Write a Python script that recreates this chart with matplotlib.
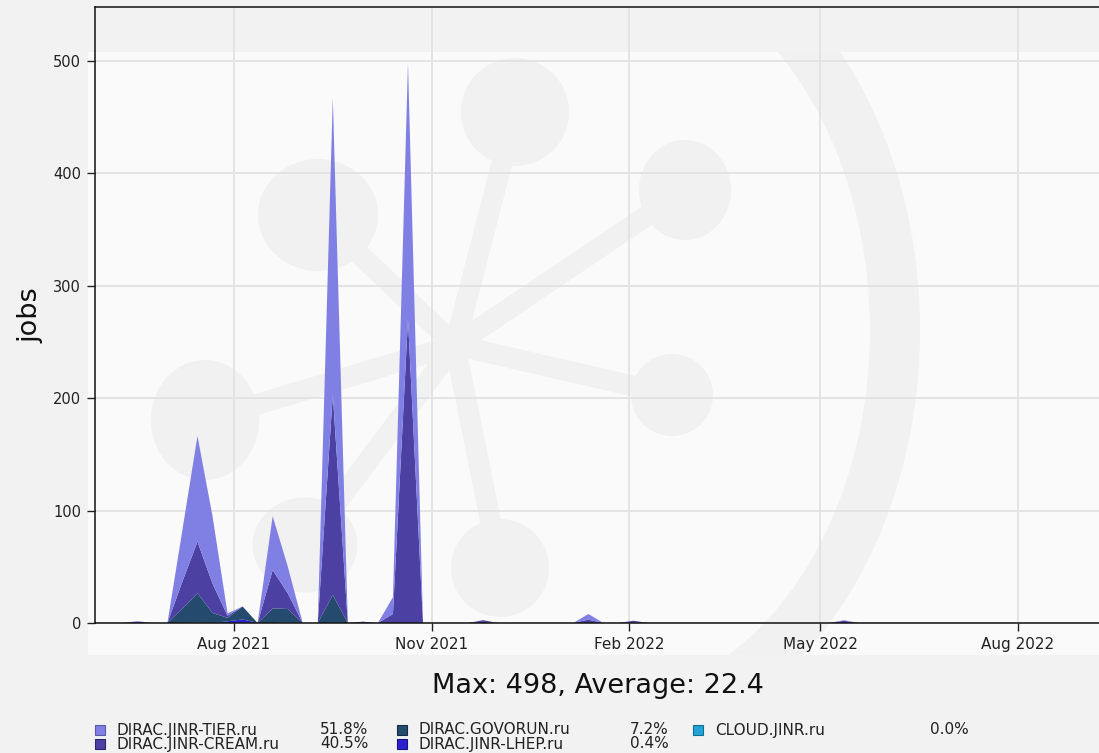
import matplotlib
matplotlib.use("Agg")
import matplotlib.pyplot as plt
import matplotlib.dates as mdates
from matplotlib.patches import Ellipse, Rectangle, Arc
import pandas as pd

W, H = 1099, 753

# ---------------- data (weekly bins) ----------------
weeks = pd.date_range("2021-06-03", periods=67, freq="7D")

tier = [0, 0, 0.5, 0, 0, 46, 94, 60, 2, 0,
        0, 48, 24, 0, 0, 264, 0, 0, 0, 15,
        228, 0, 0, 0, 0, 0, 0, 0, 0, 0,
        0, 0, 5, 0, 0, 0, 0, 0, 0, 0,
        0, 0, 0, 0, 0, 0, 0, 0, 0, 0.5,
        0, 0, 0, 0, 0, 0, 0, 0, 0, 0,
        0, 0, 0, 0, 0, 0, 0]
cream = [0, 0, 1.2, 0, 0, 24, 46, 26, 2, 0,
         0, 34, 14, 0, 0, 178, 0, 1.2, 0, 8,
         270, 0, 0, 0, 0, 1.5, 0, 0, 0, 0,
         0, 0, 3, 0, 0, 1.5, 0, 0, 0, 0,
         0, 0, 0, 0, 0, 0, 0, 0, 0, 2,
         0, 0, 0, 0, 0, 0, 0, 0, 0, 0,
         0, 0, 0, 0, 0, 0, 0]
govorun = [0, 0, 0, 0, 0, 13, 26, 9, 3, 11.5,
           0, 13, 12, 0, 0, 25, 0, 0, 0, 0,
           0, 0, 0, 0, 0, 1, 0, 0, 0, 0,
           0, 0, 0, 0, 0, 0.5, 0, 0, 0, 0,
           0, 0, 0, 0, 0, 0, 0, 0, 0, 0,
           0, 0, 0, 0, 0, 0, 0, 0, 0, 0,
           0, 0, 0, 0, 0, 0, 0]
lhep = [0, 0, 0, 0, 0, 0, 0, 0, 1.5, 3,
        0, 0, 0.5, 0, 0, 0, 0, 0, 0, 0,
        0, 0, 0, 0, 0, 0, 0, 0, 0, 0,
        0, 0, 0, 0, 0, 0, 0, 0, 0, 0,
        0, 0, 0, 0, 0, 0, 0, 0, 0, 0,
        0, 0, 0, 0, 0, 0, 0, 0, 0, 0,
        0, 0, 0, 0, 0, 0, 0]
cloud = [0, 0, 0, 0, 0, 0, 0.3, 0, 0, 0.2,
         0, 0, 0, 0, 0, 0, 0, 0, 0, 0,
         0, 0, 0, 0, 0, 0, 0, 0, 0, 0,
         0, 0, 0, 0, 0, 0, 0, 0, 0, 0,
         0, 0, 0, 0, 0, 0, 0, 0, 0, 0,
         0, 0, 0, 0, 0, 0, 0, 0, 0, 0,
         0, 0, 0, 0, 0, 0, 0]

names = ["DIRAC.JINR-TIER.ru", "DIRAC.JINR-CREAM.ru", "DIRAC.GOVORUN.ru",
         "DIRAC.JINR-LHEP.ru", "CLOUD.JINR.ru"]
pcts = ["51.8%", "40.5%", "7.2%", "0.4%", "0.0%"]
colors = ["#8080e4", "#4c40a2", "#244a6e", "#2a20cc", "#22a2d8"]
edge_colors = ["#5a5aa8", "#2e2670", "#142c44", "#18128a", "#12708f"]
title_text = "Max: 498, Average: 22.4"

# ---------------- figure ----------------
fig = plt.figure(figsize=(W / 100, H / 100), dpi=100)
fig.patch.set_facecolor("#f2f2f2")

def fx(x):
    return x / W

def fy(y):
    return 1 - y / H

# background watermark (pixel coordinates)
bg = fig.add_axes([0, 0, 1, 1], zorder=-5)
bg.set_xlim(0, W)
bg.set_ylim(H, 0)
bg.axis("off")
wm = "#f1f1f1"
light = Rectangle((88, 52), W - 88, 655 - 52, color="#fafafa", lw=0)
bg.add_patch(light)
arc = Arc((600, 330), 590, 790, theta1=-90, theta2=90, color=wm, lw=36)
bg.add_patch(arc)
arc.set_clip_path(light)
center = (455, 345)
nodes = [((318, 215), 120, 112), ((515, 112), 108, 108), ((685, 190), 92, 100),
         ((672, 395), 82, 82), ((500, 568), 98, 98), ((205, 420), 108, 120),
         ((305, 545), 105, 95)]
for (cx, cy), w, h in nodes:
    bg.plot([center[0], cx], [center[1], cy], color=wm, lw=15, solid_capstyle="round")
for (cx, cy), w, h in nodes:
    bg.add_patch(Ellipse((cx, cy), w, h, color=wm, lw=0))

# main axes
left_px, right_px, top_px, bot_px = 95, 1110, 7, 623
ax = fig.add_axes([fx(left_px), fy(bot_px), fx(right_px - left_px), (bot_px - top_px) / H])
ax.set_facecolor("none")

ax.stackplot(weeks, cloud, lhep, govorun, cream, tier,
             colors=[colors[4], colors[3], colors[2], colors[1], colors[0]],
             linewidth=0)

aug1 = pd.Timestamp("2021-08-01")
ppd = 784 / 365.0
ax.set_xlim(aug1 - pd.Timedelta(days=(234 - left_px) / ppd),
            aug1 + pd.Timedelta(days=(right_px - 234) / ppd))
ax.set_ylim(0, 498 * 1.1)

ax.xaxis.set_major_locator(mdates.MonthLocator(bymonth=[2, 5, 8, 11]))
ax.xaxis.set_major_formatter(mdates.DateFormatter("%b %Y"))
ax.set_yticks([0, 100, 200, 300, 400, 500])
ax.tick_params(axis="y", labelsize=10.5, length=6, width=1, colors="#222222", pad=4)
ax.tick_params(axis="x", labelsize=11, length=6, width=1, colors="#222222", pad=4)
ax.grid(True, color="#e2e2e2", lw=1.3)
ax.set_axisbelow(True)
for s in ["left", "bottom", "top", "right"]:
    ax.spines[s].set_color("#111111")
    ax.spines[s].set_linewidth(1.1)

fig.text(fx(30), fy(315), "jobs", rotation=90, fontsize=19.5, ha="center", va="center",
         color="#111111")
fig.text(fx(598), fy(686), title_text, fontsize=19.5, ha="center", va="center",
         color="#111111")

# legend (manual, column-wise)
col_sq = [95, 397, 693]
col_pct = [320, 630, 930]
row_y = [730, 744]
for i, (nm, pc) in enumerate(zip(names, pcts)):
    c, r = divmod(i, 2)
    y = row_y[r]
    bg.add_patch(Rectangle((col_sq[c], y - 5), 10, 10, facecolor=colors[i],
                           edgecolor=edge_colors[i], lw=0.8))
    bg.text(col_sq[c] + 22, y, nm, fontsize=11, va="center", ha="left", color="#222222")
    bg.text(col_pct[c], y, pc, fontsize=11, va="center", ha="left", color="#222222")

fig.savefig("out.png", dpi=100, facecolor=fig.get_facecolor())
